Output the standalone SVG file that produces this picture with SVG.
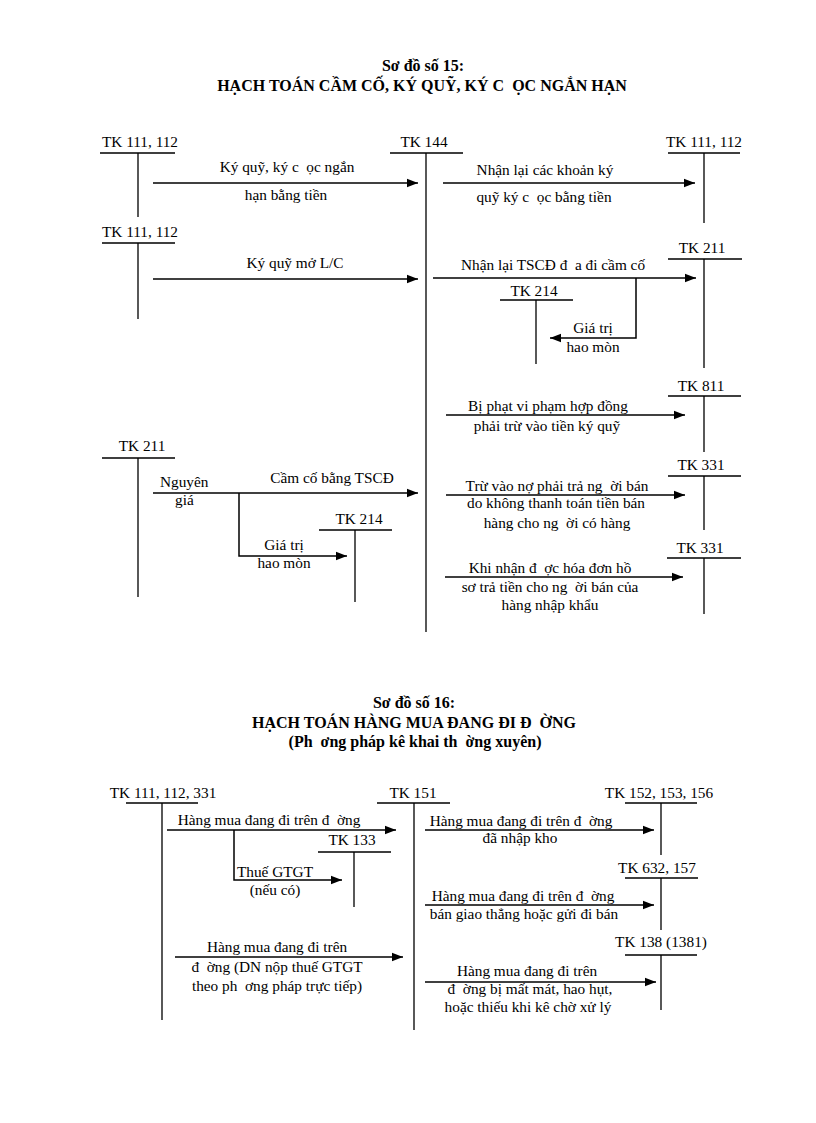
<svg xmlns="http://www.w3.org/2000/svg" width="816" height="1123" viewBox="0 0 816 1123" xml:space="preserve">
<defs>
<marker id="ah" markerUnits="userSpaceOnUse" markerWidth="12" markerHeight="10" refX="11" refY="5" orient="auto"><path d="M0,0.8 L11,5 L0,9.2 Z" fill="#000"/></marker>
</defs>
<style>
text{font-family:"Liberation Serif","Times New Roman",serif;font-size:15.3px;fill:#000;white-space:pre}
.t{font-weight:bold;font-size:16px;text-anchor:middle}
.m{text-anchor:middle}
.l{stroke:#000;stroke-width:1.3;fill:none}
.a{stroke:#000;stroke-width:1.5;fill:none;marker-end:url(#ah)}
</style>
<rect width="816" height="1123" fill="#fff"/>
<g id="titles">
<text class="t" x="423" y="71">Sơ đồ số 15:</text>
<text class="t" x="422" y="91">HẠCH TOÁN CẦM CỐ, KÝ QUỸ, KÝ C&#160;&#160;ỌC NGẮN HẠN</text>
<text class="t" x="414" y="708">Sơ đồ số 16:</text>
<text class="t" x="414" y="728">HẠCH TOÁN HÀNG MUA ĐANG ĐI Đ&#160;&#160;ỜNG</text>
<text class="t" x="415" y="747">(Ph&#160;&#160;ơng pháp kê khai th&#160;&#160;ờng xuyên)</text>
</g>
<g id="tk111-a"><text class="m" x="140" y="147">TK 111, 112</text><path class="l" d="M100,153H175M138,153V217"/></g>
<g id="tk144"><text class="m" x="424" y="147">TK 144</text><path class="l" d="M390,153H463M426,153V632"/></g>
<g id="tk111-r"><text class="m" x="704" y="147">TK 111, 112</text><path class="l" d="M668,153H740M704,153V223"/></g>
<g id="tk111-b"><text class="m" x="140" y="237">TK 111, 112</text><path class="l" d="M102,243H175M138,243V319"/></g>
<g id="tk211-r"><text class="m" x="702" y="253">TK 211</text><path class="l" d="M668,259H742M704,259V368"/></g>
<g id="tk214-r"><text class="m" x="534" y="296">TK 214</text><path class="l" d="M500,300H573M536,300V364"/></g>
<g id="tk811"><text class="m" x="701" y="391">TK 811</text><path class="l" d="M668,396H741M704,396V452"/></g>
<g id="tk331-a"><text class="m" x="701" y="470">TK 331</text><path class="l" d="M668,476H741M704,476V530"/></g>
<g id="tk331-b"><text class="m" x="700" y="553">TK 331</text><path class="l" d="M667,558H741M704,558V614"/></g>
<g id="tk211-l"><text class="m" x="142" y="451">TK 211</text><path class="l" d="M102,458H175M138,458V597"/></g>
<g id="tk214-l"><text class="m" x="359" y="524">TK 214</text><path class="l" d="M319,530H392M355,530V602"/></g>
<g id="tk111-112-331"><text class="m" x="163" y="798">TK 111, 112, 331</text><path class="l" d="M126,803H198M162,803V1020"/></g>
<g id="tk151"><text class="m" x="413" y="798">TK 151</text><path class="l" d="M377,803H450M414,803V1030"/></g>
<g id="tk152"><text class="m" x="659" y="798">TK 152, 153, 156</text><path class="l" d="M625,803H697M661,803V855"/></g>
<g id="tk133"><text class="m" x="352" y="845">TK 133</text><path class="l" d="M318,852H391M354,852V907"/></g>
<g id="tk632"><text class="m" x="657" y="873">TK 632, 157</text><path class="l" d="M625,878H698M661,878V930"/></g>
<g id="tk138"><text class="m" x="661" y="947">TK 138 (1381)</text><path class="l" d="M625,955H697M661,955V1010"/></g>
<g id="connectors">
<path class="a" d="M153,183H418"/>
<path class="a" d="M443,183H695"/>
<path class="a" d="M153,279H418"/>
<path class="a" d="M433,278H696"/>
<path class="a" d="M636,278V338H550"/>
<path class="a" d="M446,415H685"/>
<path class="a" d="M446,495H685"/>
<path class="a" d="M445,577H683"/>
<path class="a" d="M153,493H418"/>
<path class="a" d="M239,493V556H347"/>
<path class="a" d="M167,830H396"/>
<path class="a" d="M234,830V880H342"/>
<path class="a" d="M425,830H654"/>
<path class="a" d="M425,905H654"/>
<path class="a" d="M175,957H403"/>
<path class="a" d="M425,982H656"/>
</g>
<g id="labels">
<text class="m" x="287" y="172">Ký quỹ, ký c&#160;&#160;ọc ngắn</text>
<text class="m" x="286" y="200">hạn bằng tiền</text>
<text class="m" x="545" y="175">Nhận lại các khoản ký</text>
<text class="m" x="544" y="202">quỹ ký c&#160;&#160;ọc bằng tiền</text>
<text class="m" x="295" y="268">Ký quỹ mở L/C</text>
<text class="m" x="553" y="270">Nhận lại TSCĐ đ&#160;&#160;a đi cầm cố</text>
<text class="m" x="593" y="333">Giá trị</text>
<text class="m" x="593" y="352">hao mòn</text>
<text class="m" x="548" y="411">Bị phạt vi phạm hợp đồng</text>
<text class="m" x="547" y="431">phải trừ vào tiền ký quỹ</text>
<text class="m" x="557" y="491">Trừ vào nợ phải trả ng&#160;&#160;ời bán</text>
<text class="m" x="556" y="508">do không thanh toán tiền bán</text>
<text class="m" x="557" y="528">hàng cho ng&#160;&#160;ời có hàng</text>
<text class="m" x="550" y="573">Khi nhận đ&#160;&#160;ợc hóa đơn hồ</text>
<text class="m" x="550" y="592">sơ trả tiền cho ng&#160;&#160;ời bán của</text>
<text class="m" x="550" y="610">hàng nhập khẩu</text>
<text x="160" y="487">Nguyên</text>
<text x="175" y="505">giá</text>
<text class="m" x="332" y="483">Cầm cố bằng TSCĐ</text>
<text class="m" x="284" y="550">Giá trị</text>
<text class="m" x="284" y="568">hao mòn</text>
<text class="m" x="269" y="825">Hàng mua đang đi trên đ&#160;&#160;ờng</text>
<text class="m" x="275" y="877">Thuế GTGT</text>
<text class="m" x="275" y="895">(nếu có)</text>
<text class="m" x="521" y="826">Hàng mua đang đi trên đ&#160;&#160;ờng</text>
<text class="m" x="520" y="843">đã nhập kho</text>
<text class="m" x="523" y="901">Hàng mua đang đi trên đ&#160;&#160;ờng</text>
<text class="m" x="524" y="919">bán giao thẳng hoặc gửi đi bán</text>
<text class="m" x="277" y="952">Hàng mua đang đi trên</text>
<text class="m" x="277" y="972">đ&#160;&#160;ờng (DN nộp thuế GTGT</text>
<text class="m" x="277" y="991">theo ph&#160;&#160;ơng pháp trực tiếp)</text>
<text class="m" x="527" y="976">Hàng mua đang đi trên</text>
<text class="m" x="530" y="994">đ&#160;&#160;ờng bị mất mát, hao hụt,</text>
<text class="m" x="528" y="1012">hoặc thiếu khi kê chờ xử lý</text>
</g>
</svg>
